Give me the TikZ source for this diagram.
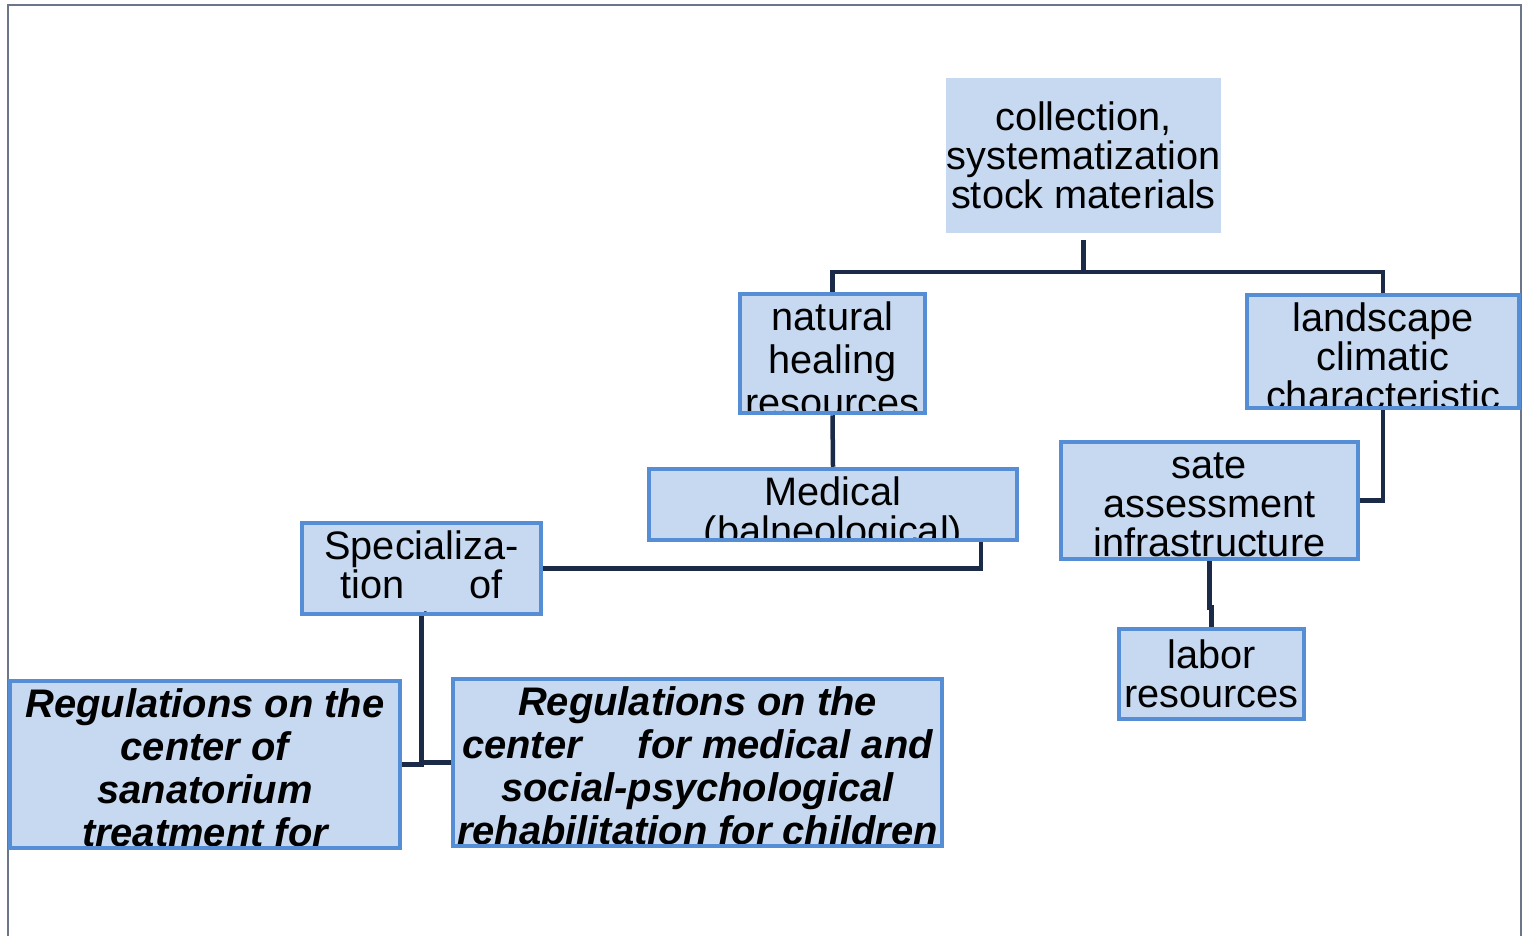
\documentclass[tikz,border=0pt]{standalone}
\usepackage{fontspec}
\setmainfont{Liberation Sans}
\usetikzlibrary{calc, positioning, backgrounds}

\definecolor{boxfill}{HTML}{C6D9F1}
\definecolor{boxline}{HTML}{558ED5}
\definecolor{linkcol}{HTML}{1B2A47}
\definecolor{framecol}{HTML}{6B7789}

\newcommand{\plainfont}{\fontsize{22.6pt}{22.2pt}\selectfont}
\newcommand{\widefont}{\fontsize{22.6pt}{24.5pt}\selectfont}
\newcommand{\regfont}{\fontsize{22.7pt}{24.5pt}\selectfont\bfseries\itshape}

\begin{document}
\begin{tikzpicture}[x=0.02cm, y=-0.02cm,
    box/.style 2 args={rectangle, draw=boxline, fill=boxfill, line width=0.09cm, inner sep=0pt, minimum width=#1*0.02cm, minimum height=#2*0.02cm},
    lbl/.style 2 args={path picture={\node[anchor=north, align=center, inner sep=0pt, minimum width=0pt, minimum height=0pt, font=#1] at ([yshift=-0.11cm]path picture bounding box.north) {\vphantom{Ml}#2};}},
    link/.style={draw=linkcol, line width=0.09cm}]
    \useasboundingbox (0,0) rectangle (1523,936);
    \draw[framecol, line width=0.04cm] (8,936) -- (8,5) -- (1521,5) -- (1521,936);

    \node[box={275}{155}, draw=none, font=\plainfont, align=center] (col) at (1083.5,155.5) {collection,\\systematization\\stock materials};
    \node[box={185}{119}, lbl={\widefont}{natural\\healing\\resources}] (heal) at (832.5,353.5) {};
    \node[box={272}{113}, lbl={\plainfont}{landscape\\climatic\\characteristic}] (land) at (1383,351.5) {};
    \node[box={368}{71}, lbl={\plainfont}{Medical\\(balneological)}] (med) at (833,504.5) {};
    \node[box={297}{117}, lbl={\plainfont}{sate\\assessment\\infrastructure}] (sate) at (1209.5,500.5) {};
    \node[box={239}{91}, lbl={\plainfont}{Specializa-\\tion\hspace{1.3cm}of\\centers}] (spec) at (421.5,568.5) {};
    \node[box={185}{90}, font=\plainfont, align=center] (labor) at (1211.5,674) {labor\\resources};
    \node[box={390}{167}, lbl={\regfont}{Regulations on the\\center of\\sanatorium\\treatment for}] (regsan) at (205,764.5) {};
    \node[box={489}{167}, lbl={\regfont}{Regulations on the\\center\hspace{0.9cm} for medical and\\social-psychological\\rehabilitation for children}] (regkids) at (697.5,762.5) {};

    \begin{scope}[on background layer]
    \coordinate (bus) at (1083.5,272);
    \draw[link] ([yshift=-0.1cm]col.south) -- (bus);
    \draw[link] (heal.north) |- (bus) -| (land.north);
    \draw[link] (heal.south) -- (med.north);
    \draw[link] (land.south) |- (sate.east);
    \draw[link] ([xshift=2.96cm]med.south) |- (spec.east);
    \draw[link] (spec.south) |- (regsan.east);
    \draw[link] (spec.south) |- (regkids.west);
    \draw[link] (sate.south) -- ++(0,46) -| (labor.north);
    \end{scope}
\end{tikzpicture}
\end{document}
